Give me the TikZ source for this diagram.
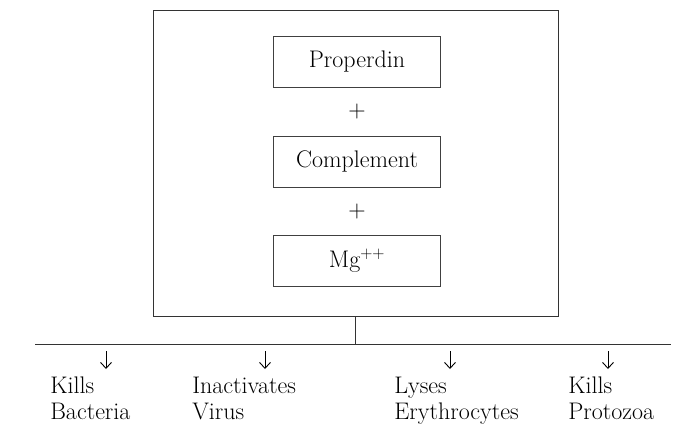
\documentclass[tikz,border=0pt]{standalone}
\usepackage{fontspec}
\usepackage{tikz}
\usetikzlibrary{arrows.meta}

\begin{document}
\begin{tikzpicture}[x=1pt,y=-1pt,node distance=99.5pt,
	line width=0.6pt,
	>={Straight Barb[length=6pt,width=11pt]},
	lbl/.style={font=\fontsize{24}{25.5}\selectfont},
	inbox/.style={draw=black!75,minimum width=167pt,minimum height=51pt,inner sep=0pt,lbl},
	restext/.style={lbl,align=left,inner sep=0pt,anchor=north west}]
	\useasboundingbox (0,0) rectangle (697,432);
	
	% outer box
	\node[draw=black!80,minimum width=405pt,minimum height=306pt,inner sep=0pt] (main) at (355.5,163) {};
	
	% the three parts
	\node[inbox] (sub1) at (357,62) {Properdin};
	\node[inbox] (sub2) [below of=sub1] {Complement};
	\node[inbox] (sub3) [below of=sub2] {Mg\textsuperscript{++}};
	
	\node[lbl] (plus1) [below of=sub1,node distance=50pt] {+};
	\node[lbl] (plus2) [below of=sub2,node distance=50pt] {+};
	
	% branching line
	\coordinate (lineL) at (35,344);
	\coordinate (lineR) at (671,344);
	\coordinate (stem) at (main.south |- lineL);
	\draw[black!80] (main.south) -- (stem);
	\draw[black!80] (lineL) -- (lineR);
	
	% effects
	\foreach \x/\n in {106/1,265/2,450/3,608/4}{
		\coordinate (top\n) at (\x,351);
		\coordinate (bot\n) at (\x,369);
		\draw[->,line width=0.9pt] (top\n) -- (bot\n);
	}
	
	\node[restext] (res1) at (50,377) {Kills\\Bacteria};
	\node[restext] (res2) at (192,377) {Inactivates\\Virus};
	\node[restext] (res3) at (394,377) {Lyses\\Erythrocytes};
	\node[restext] (res4) at (568,377) {Kills\\Protozoa};
	
\end{tikzpicture}
\end{document}
